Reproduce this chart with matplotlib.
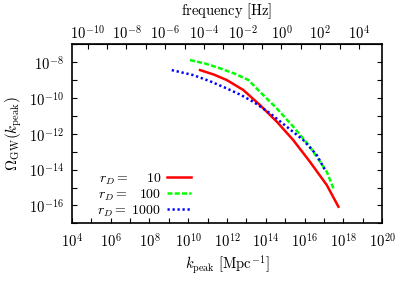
import numpy as np
import matplotlib
matplotlib.use("Agg")
import matplotlib.pyplot as plt

plt.rcParams['mathtext.fontset'] = 'cm'
plt.rcParams['font.family'] = 'serif'
plt.rcParams['font.serif'] = ['cmr10', 'DejaVu Serif']
plt.rcParams['axes.formatter.use_mathtext'] = True

# log10 values
red_logk = [10.61, 11.3, 11.98, 12.84, 13.70, 14.57, 15.42, 16.28, 17.15, 17.75]
red_logom = [-8.44, -8.68, -8.99, -9.55, -10.39, -11.32, -12.35, -13.56, -14.86, -16.07]

green_logk = [10.09, 10.9, 11.64, 12.4, 13.10, 13.70, 14.57, 15.42, 16.28, 17.15, 17.49]
green_logom = [-7.88, -8.08, -8.34, -8.64, -8.99, -9.65, -10.58, -11.60, -12.72, -14.12, -15.04]

blue_logk = [9.15, 10.26, 11.1, 11.98, 12.7, 13.36, 14.22, 15.08, 15.94, 16.63, 17.06]
blue_logom = [-8.44, -8.72, -9.05, -9.46, -9.82, -10.21, -10.85, -11.60, -12.35, -13.18, -14.02]

labels = [r'$r_D =\ \enspace\enspace10$', r'$r_D =\ \enspace100$', r'$r_D =\ 1000$']

kticks = [4, 6, 8, 10, 12, 14, 16, 18, 20]
yticks = [-16, -14, -12, -10, -8]
fticks = [-10, -8, -6, -4, -2, 0, 2, 4]

# k [Mpc^-1] -> f [Hz]
KF = 1.546e-15


def k2f(k):
    return k * KF


def f2k(f):
    return f / KF


fig = plt.figure(figsize=(4.09, 2.86), dpi=100)
ax = fig.add_axes([0.176, 0.219, 0.758, 0.626])

lw = 1.8
ax.plot(10**np.array(red_logk), 10**np.array(red_logom), color='#ff0000', lw=lw, label=labels[0])
ax.plot(10**np.array(green_logk), 10**np.array(green_logom), color='#00ff00', lw=lw,
        dashes=(2.0, 0.9), label=labels[1])
ax.plot(10**np.array(blue_logk), 10**np.array(blue_logom), color='#0000ff', lw=lw,
        dashes=(0.9, 1.1), label=labels[2])

ax.set_xscale('log')
ax.set_yscale('log')
ax.set_xlim(1e4, 1e20)
ax.set_ylim(1e-17, 1e-7)

fs = 10.5
ax.set_xticks([10.0**t for t in kticks])
ax.set_xticklabels([r'$10^{%d}$' % t for t in kticks])
ax.set_xticks([10.0**t for t in range(5, 20, 2)], minor=True)
ax.set_yticks([10.0**t for t in yticks])
ax.set_yticklabels([r'$10^{%d}$' % t for t in yticks])
ax.set_yticks([10.0**t for t in range(-17, -6, 2)], minor=True)
ax.yaxis.set_minor_formatter(plt.NullFormatter())
ax.xaxis.set_minor_formatter(plt.NullFormatter())

ax.tick_params(which='both', direction='in', length=3.5, width=0.8, labelsize=fs,
               right=True, top=False, pad=6)
for s in ax.spines.values():
    s.set_linewidth(1.2)

ax.set_xlabel(r'$k_{\rm peak}\ [\mathrm{Mpc}^{-1}]$', fontsize=fs, labelpad=3)
ax.set_ylabel(r'$\Omega_{\rm GW}(k_{\rm peak})$', fontsize=fs + 0.5, labelpad=3)

sec = ax.secondary_xaxis('top', functions=(k2f, f2k))
sec.set_xticks([10.0**t for t in fticks])
sec.set_xticklabels([r'$10^{%d}$' % t for t in fticks])
sec.set_xticks([10.0**t for t in range(-11, 5, 2)], minor=True)
sec.xaxis.set_minor_formatter(plt.NullFormatter())
sec.tick_params(which='both', direction='in', length=3.5, width=0.8, labelsize=fs, pad=2)
sec.set_xlabel(r'$\mathrm{frequency\ [Hz]}$', fontsize=fs, labelpad=6)

leg = ax.legend(loc='lower left', bbox_to_anchor=(0.055, -0.02), frameon=False, markerfirst=False,
                fontsize=10, handlelength=1.7, handletextpad=0.4, labelspacing=0.05,
                borderaxespad=0.2)

fig.savefig('out.png', dpi=100)
